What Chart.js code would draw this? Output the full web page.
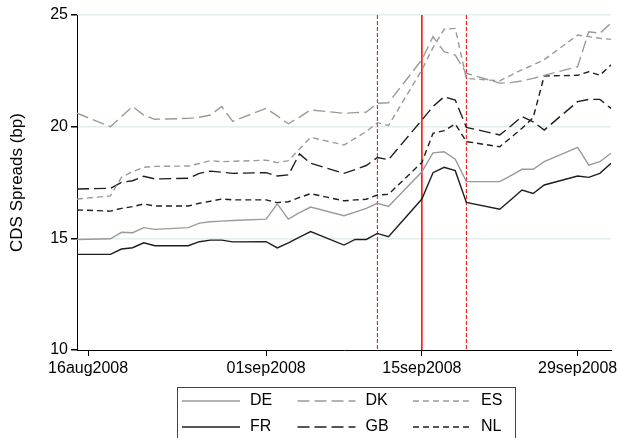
<!DOCTYPE html>
<html lang="en">
<head>
<meta charset="UTF-8">
<title>CDS Spreads</title>
<script src="https://cdn.jsdelivr.net/npm/chart.js@4.4.0/dist/chart.umd.min.js"></script>
<style>
  body { margin: 0; background: #fff; }
</style>
</head>
<body>
<canvas id="canvas" width="618" height="438"></canvas>
<script>
    // trading days, Aug 15 - Oct 2 2008
    const dates = [
        '2008-08-15', '2008-08-18', '2008-08-19', '2008-08-20', '2008-08-21', '2008-08-22',
        '2008-08-25', '2008-08-26', '2008-08-27', '2008-08-28', '2008-08-29',
        '2008-09-01', '2008-09-02', '2008-09-03', '2008-09-04', '2008-09-05',
        '2008-09-08', '2008-09-09', '2008-09-10', '2008-09-11', '2008-09-12',
        '2008-09-15', '2008-09-16', '2008-09-17', '2008-09-18', '2008-09-19',
        '2008-09-22', '2008-09-23', '2008-09-24', '2008-09-25', '2008-09-26',
        '2008-09-29', '2008-09-30', '2008-10-01', '2008-10-02'
    ];

    const de = [14.95, 14.98, 15.27, 15.25, 15.48, 15.40, 15.48, 15.68, 15.74, 15.77, 15.80,
        15.86, 16.54, 15.86, 16.15, 16.40, 16.01, 16.17, 16.34, 16.57, 16.43,
        17.98, 18.83, 18.88, 18.54, 17.54, 17.54, 17.81, 18.09, 18.09, 18.43,
        19.07, 18.28, 18.43, 18.81];
    const dk = [20.60, 20.00, 20.45, 20.90, 20.52, 20.33, 20.37, 20.42, 20.52, 20.90, 20.24,
        20.82, 20.48, 20.13, 20.43, 20.75, 20.60, 20.63, 20.65, 21.05, 21.07,
        23.00, 24.03, 23.36, 23.20, 22.39, 21.95, 21.97, 22.05, 22.16, 22.30,
        22.69, 24.25, 24.18, 24.63];
    const es = [16.76, 16.90, 17.73, 17.98, 18.18, 18.22, 18.24, 18.35, 18.48, 18.43, 18.45,
        18.50, 18.39, 18.48, 19.00, 19.52, 19.18, 19.48, 19.78, 20.18, 20.05,
        22.54, 23.54, 24.36, 24.40, 22.16, 22.05, 22.30, 22.55, 22.76, 23.00,
        24.10, 24.03, 23.96, 23.91];
    const fr = [14.28, 14.28, 14.52, 14.58, 14.80, 14.67, 14.67, 14.85, 14.92, 14.92, 14.84,
        14.85, 14.57, 14.80, 15.05, 15.30, 14.70, 14.95, 14.95, 15.22, 15.07,
        16.76, 17.94, 18.18, 18.03, 16.61, 16.30, 16.73, 17.16, 17.01, 17.39,
        17.79, 17.73, 17.91, 18.36];
    const gb = [17.21, 17.24, 17.51, 17.58, 17.78, 17.66, 17.69, 17.91, 18.01, 17.96, 17.91,
        17.94, 17.79, 17.84, 18.78, 18.36, 17.91, 18.08, 18.26, 18.62, 18.52,
        20.30, 20.90, 21.34, 21.19, 19.97, 19.63, 20.03, 20.45, 20.22, 19.85,
        21.12, 21.22, 21.22, 20.82];
    const nl = [16.27, 16.22, 16.34, 16.42, 16.54, 16.45, 16.45, 16.57, 16.66, 16.76, 16.72,
        16.72, 16.60, 16.64, 16.83, 17.00, 16.68, 16.72, 16.75, 16.94, 16.97,
        18.40, 19.70, 19.82, 20.12, 19.33, 19.10, 19.51, 19.93, 20.40, 22.27,
        22.30, 22.46, 22.30, 22.76];

    const tickDates = ['2008-08-16', '2008-09-01', '2008-09-15', '2008-09-29'];
    const tickLabels = ['16aug2008', '01sep2008', '15sep2008', '29sep2008'];
    const yTicks = [10, 15, 20, 25];
    // event lines: dashed, solid (Lehman), dashed
    const eventDates = ['2008-09-11', '2008-09-15', '2008-09-19'];
    const eventSolid = [false, true, false];

    const origin = Date.UTC(2008, 7, 16);
    function dayNum(s) {
        const p = s.split('-');
        return (Date.UTC(+p[0], +p[1] - 1, +p[2]) - origin) / 864e5;
    }
    const days = dates.map(dayNum);
    const pts = vals => vals.map((v, i) => ({x: days[i], y: v}));

    const GREY = '#9a9a9a';
    const BLACK = '#1e1e1e';
    const LONG = [12, 5];
    const SHORT = [6, 4];

    Chart.defaults.font.family = '"Liberation Sans", Arial, sans-serif';
    Chart.defaults.font.size = 16;
    Chart.defaults.color = '#000';

    function line(label, vals, color, dash) {
        return {
            label: label,
            data: pts(vals),
            borderColor: color,
            borderWidth: 1.4,
            borderDash: dash,
            pointRadius: 0,
            tension: 0,
            fill: false
        };
    }

    const eventLines = {
        id: 'eventLines',
        beforeDatasetsDraw(chart) {
            const ctx = chart.ctx;
            const area = chart.chartArea;
            const xs = chart.scales.x;
            ctx.save();
            ctx.strokeStyle = '#ff0000';
            eventDates.forEach((d, i) => {
                const x = xs.getPixelForValue(dayNum(d));
                ctx.lineWidth = eventSolid[i] ? 1.5 : 1;
                ctx.setLineDash(eventSolid[i] ? [] : [4, 2]);
                ctx.beginPath();
                ctx.moveTo(x, area.top);
                ctx.lineTo(x, area.bottom);
                ctx.stroke();
            });
            ctx.restore();
        }
    };

    const gridLegend = {
        id: 'gridLegend',
        afterDraw(chart) {
            const ctx = chart.ctx;
            ctx.save();
            ctx.strokeStyle = '#444';
            ctx.lineWidth = 1;
            ctx.strokeRect(177.5, 387.5, 338, 60);
            chart.data.datasets.forEach((ds, i) => {
                const col = i % 3, row = Math.floor(i / 3);
                const x0 = 182 + col * 115.5;
                const y = 401 + row * 26;
                ctx.strokeStyle = ds.borderColor;
                ctx.lineWidth = ds.borderWidth;
                ctx.setLineDash(ds.borderDash || []);
                ctx.beginPath();
                ctx.moveTo(x0, y);
                ctx.lineTo(x0 + 58, y);
                ctx.stroke();
                ctx.setLineDash([]);
                ctx.fillStyle = '#000';
                ctx.textBaseline = 'middle';
                ctx.font = '16px "Liberation Sans", Arial, sans-serif';
                ctx.fillText(ds.label, x0 + 68, y);
            });
            ctx.restore();
        }
    };

    const chart = new Chart('canvas', {
        type: 'line',
        data: {
            datasets: [
                line('DE', de, GREY, []),
                line('DK', dk, GREY, LONG),
                line('ES', es, GREY, SHORT),
                line('FR', fr, BLACK, []),
                line('GB', gb, BLACK, LONG),
                line('NL', nl, BLACK, SHORT)
            ]
        },
        options: {
            responsive: false,
            animation: false,
            layout: {padding: {top: 15, right: 7, left: 0, bottom: 0}},
            plugins: {
                legend: {display: false},
                tooltip: {enabled: false}
            },
            scales: {
                x: {
                    type: 'linear',
                    min: dayNum(dates[0]),
                    max: dayNum(dates[dates.length - 1]),
                    afterBuildTicks: axis => {
                        axis.ticks = tickDates.map(d => ({value: dayNum(d)}));
                    },
                    afterFit: axis => {
                        axis.height = 88;
                        axis.paddingLeft = 0;
                        axis.paddingRight = 0;
                    },
                    ticks: {
                        autoSkip: false,
                        maxRotation: 0,
                        padding: 3,
                        callback: v => tickLabels[tickDates.map(dayNum).indexOf(v)]
                    },
                    grid: {
                        drawOnChartArea: false,
                        tickLength: 6,
                        tickColor: '#000'
                    },
                    border: {color: '#000', width: 1}
                },
                y: {
                    min: 10,
                    max: 25,
                    afterBuildTicks: axis => {
                        axis.ticks = yTicks.map(v => ({value: v}));
                    },
                    afterFit: axis => {
                        axis.width = 77;
                        axis.paddingTop = 0;
                        axis.paddingBottom = 0;
                    },
                    ticks: {padding: 3},
                    grid: {
                        color: c => c.tick && c.tick.value === 10 ? 'rgba(0,0,0,0)' : '#e3ecef',
                        lineWidth: 1.5,
                        tickLength: 6,
                        tickColor: '#000'
                    },
                    border: {color: '#000', width: 1},
                    title: {
                        display: true,
                        text: 'CDS Spreads (bp)',
                        font: {size: 17},
                        padding: {top: 7, bottom: 0}
                    }
                }
            }
        },
        plugins: [eventLines, gridLegend]
    });
</script>
</body>
</html>
